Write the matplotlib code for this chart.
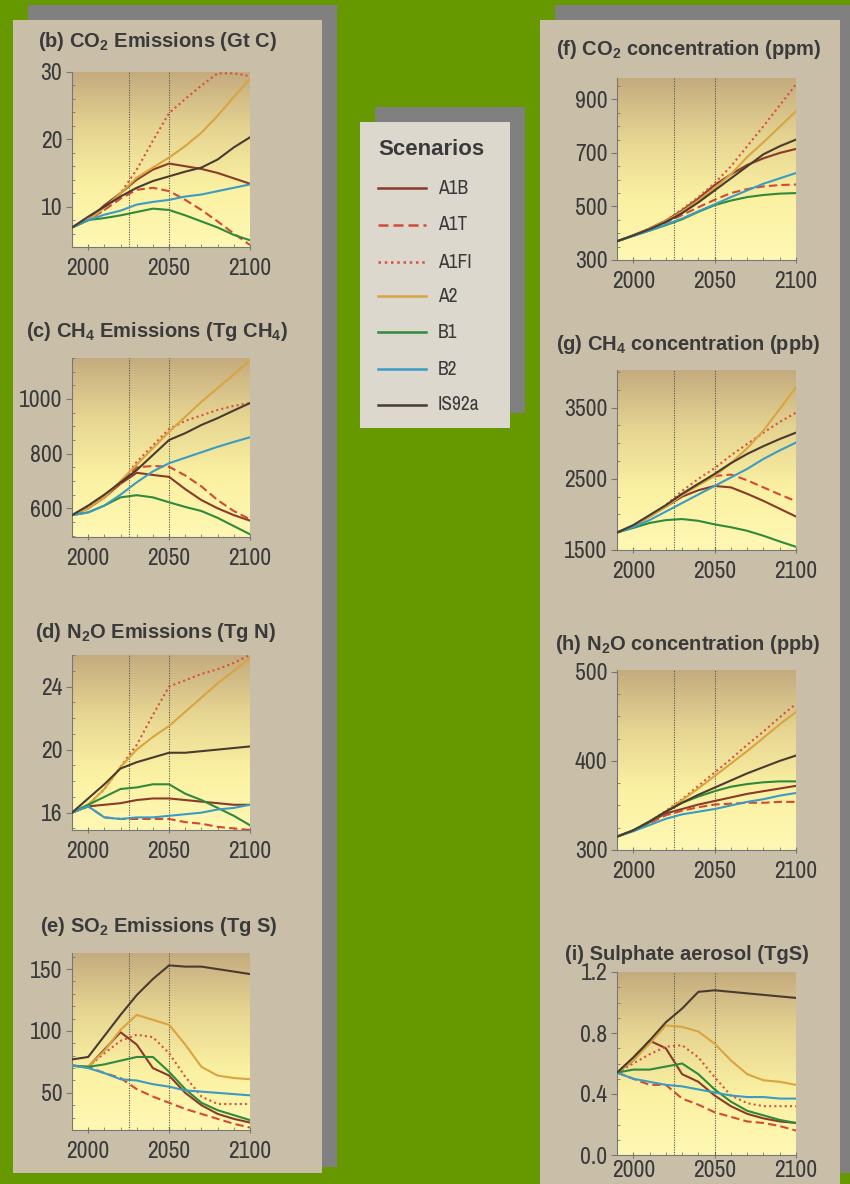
import numpy as np
import matplotlib.pyplot as plt
from matplotlib import font_manager
from matplotlib.colors import LinearSegmentedColormap
from matplotlib.patches import Rectangle
from matplotlib.lines import Line2D
from matplotlib.ticker import MultipleLocator, FormatStrFormatter

names = sorted({f.name for f in font_manager.fontManager.ttflist})
narrow = [n for n in names if 'Narrow' in n or 'Condensed' in n]
NARROW = narrow[0] if narrow else 'Liberation Sans'
plt.rcParams['font.family'] = [NARROW, 'DejaVu Sans']
plt.rcParams['mathtext.fontset'] = 'custom'
plt.rcParams['mathtext.rm'] = 'Liberation Sans'
plt.rcParams['mathtext.bf'] = 'Liberation Sans:bold'

W, H = 850, 1184

years = [1990, 2000, 2010, 2020, 2030, 2040, 2050, 2060, 2070, 2080, 2090, 2100]
scenarios = ['A1B', 'A1T', 'A1FI', 'A2', 'B1', 'B2', 'IS92a']
colors = ['#8a3a28', '#d24a36', '#d8503e', '#d9a441', '#2f8a3c', '#3a9cc4', '#4a3b30']
styles = ['-', (0, (4, 2)), (0, (1, 1.5)), '-', '-', '-', '-']

# (b) CO2 emissions, Gt C
co2_emis = {
    'A1B':   [6.9, 8.0, 10.2, 12.0, 14.0, 15.5, 16.4, 16.0, 15.6, 15.0, 14.2, 13.4],
    'A1T':   [6.9, 8.0, 9.5, 11.2, 12.5, 12.8, 12.3, 11.0, 9.5, 7.8, 6.0, 4.3],
    'A1FI':  [6.9, 8.0, 9.5, 12.0, 15.5, 19.8, 23.9, 26.0, 28.0, 29.8, 29.8, 29.4],
    'A2':    [6.9, 8.0, 9.8, 12.0, 14.3, 15.8, 17.3, 19.0, 21.0, 23.5, 26.3, 29.0],
    'B1':    [6.9, 8.0, 8.3, 8.7, 9.2, 9.7, 9.5, 8.7, 7.8, 6.9, 5.8, 5.0],
    'B2':    [6.9, 8.0, 8.8, 9.4, 10.3, 10.7, 11.0, 11.5, 11.8, 12.3, 12.8, 13.3],
    'IS92a': [6.9, 8.5, 10.0, 11.5, 12.8, 13.8, 14.5, 15.2, 15.8, 17.0, 18.8, 20.3],
}
# (c) CH4 emissions, Tg CH4
ch4_emis = {
    'A1B':   [575, 600, 640, 690, 730, 722, 715, 670, 630, 600, 575, 555],
    'A1T':   [575, 600, 640, 695, 750, 755, 752, 720, 680, 630, 590, 560],
    'A1FI':  [575, 605, 640, 690, 770, 830, 890, 920, 940, 960, 975, 985],
    'A2':    [575, 600, 640, 700, 760, 820, 880, 935, 990, 1040, 1090, 1140],
    'B1':    [575, 585, 610, 640, 648, 640, 622, 605, 590, 565, 535, 505],
    'B2':    [575, 585, 610, 650, 695, 735, 765, 785, 805, 825, 843, 860],
    'IS92a': [575, 610, 650, 695, 740, 795, 850, 875, 905, 930, 958, 985],
}
# (d) N2O emissions, Tg N
n2o_emis = {
    'A1B':   [16.0, 16.4, 16.5, 16.6, 16.8, 16.9, 16.9, 16.8, 16.7, 16.6, 16.5, 16.5],
    'A1T':   [16.0, 16.4, 15.7, 15.6, 15.6, 15.6, 15.6, 15.4, 15.3, 15.1, 15.0, 14.9],
    'A1FI':  [16.0, 16.5, 17.5, 18.9, 20.3, 22.2, 24.0, 24.4, 24.8, 25.1, 25.5, 26.0],
    'A2':    [16.0, 16.5, 17.5, 18.9, 20.0, 20.8, 21.5, 22.4, 23.3, 24.2, 25.0, 25.8],
    'B1':    [16.0, 16.5, 17.0, 17.5, 17.6, 17.8, 17.8, 17.2, 16.8, 16.3, 15.8, 15.2],
    'B2':    [16.0, 16.4, 15.7, 15.6, 15.7, 15.7, 15.8, 15.9, 16.0, 16.2, 16.3, 16.5],
    'IS92a': [16.0, 16.9, 17.8, 18.8, 19.2, 19.5, 19.8, 19.8, 19.9, 20.0, 20.1, 20.2],
}
# (e) SO2 emissions, Tg S
so2_emis = {
    'A1B':   [72, 71, 85, 99, 89, 70, 64, 50, 40, 33, 29, 26],
    'A1T':   [72, 71, 66, 62, 53, 47, 42, 37, 33, 29, 25, 22],
    'A1FI':  [72, 71, 82, 92, 97, 95, 82, 63, 47, 41, 41, 41],
    'A2':    [72, 71, 84, 101, 113, 109, 105, 89, 71, 64, 62, 61],
    'B1':    [72, 71, 73, 76, 79, 79, 67, 53, 42, 36, 32, 28],
    'B2':    [72, 70, 66, 61, 60, 57, 55, 52, 51, 50, 49, 48],
    'IS92a': [77, 79, 96, 113, 129, 142, 153, 152, 152, 150, 148, 146],
}
# (f) CO2 concentration, ppm
co2_conc = {
    'A1B':   [370, 392, 418, 447, 485, 530, 580, 620, 655, 680, 700, 715],
    'A1T':   [370, 392, 415, 440, 468, 497, 525, 550, 565, 575, 580, 582],
    'A1FI':  [370, 392, 418, 447, 490, 535, 587, 650, 725, 800, 878, 956],
    'A2':    [370, 392, 417, 445, 480, 522, 569, 620, 685, 740, 798, 856],
    'B1':    [370, 390, 410, 430, 452, 480, 505, 522, 535, 543, 548, 550],
    'B2':    [370, 390, 410, 432, 455, 482, 508, 535, 560, 585, 605, 625],
    'IS92a': [370, 392, 415, 442, 475, 515, 560, 605, 650, 695, 725, 750],
}
# (g) CH4 concentration, ppb
ch4_conc = {
    'A1B':   [1745, 1840, 1970, 2110, 2250, 2340, 2400, 2380, 2290, 2190, 2080, 1970],
    'A1T':   [1745, 1840, 1970, 2120, 2280, 2430, 2540, 2560, 2480, 2380, 2280, 2185],
    'A1FI':  [1745, 1840, 1970, 2130, 2330, 2500, 2650, 2830, 2990, 3150, 3300, 3430],
    'A2':    [1745, 1840, 1965, 2110, 2270, 2410, 2540, 2720, 2930, 3180, 3480, 3790],
    'B1':    [1745, 1810, 1880, 1920, 1935, 1910, 1860, 1820, 1770, 1700, 1620, 1545],
    'B2':    [1745, 1820, 1920, 2040, 2160, 2280, 2400, 2520, 2640, 2780, 2900, 3010],
    'IS92a': [1745, 1850, 1990, 2130, 2290, 2430, 2570, 2720, 2850, 2960, 3060, 3150],
}
# (h) N2O concentration, ppb
n2o_conc = {
    'A1B':   [315, 322, 331, 341, 346, 351, 355, 359, 363, 366, 369, 372],
    'A1T':   [315, 322, 330, 339, 344, 348, 351, 352, 353, 353, 354, 354],
    'A1FI':  [315, 322, 332, 344, 357, 372, 387, 402, 418, 433, 449, 464],
    'A2':    [315, 322, 332, 343, 356, 369, 383, 397, 411, 426, 441, 455],
    'B1':    [315, 322, 332, 343, 353, 360, 366, 371, 374, 376, 377, 377],
    'B2':    [315, 321, 328, 335, 340, 343, 346, 350, 354, 357, 361, 364],
    'IS92a': [315, 322, 332, 343, 353, 362, 370, 378, 386, 393, 400, 406],
}
# (i) Sulphate aerosol, TgS
sulphate = {
    'A1B':   [0.54, 0.62, 0.75, 0.70, 0.53, 0.48, 0.39, 0.32, 0.27, 0.24, 0.22, 0.21],
    'A1T':   [0.54, 0.50, 0.46, 0.46, 0.37, 0.33, 0.28, 0.25, 0.22, 0.21, 0.19, 0.16],
    'A1FI':  [0.54, 0.60, 0.66, 0.71, 0.72, 0.64, 0.51, 0.39, 0.34, 0.32, 0.32, 0.32],
    'A2':    [0.54, 0.62, 0.73, 0.85, 0.84, 0.81, 0.73, 0.62, 0.53, 0.49, 0.48, 0.46],
    'B1':    [0.54, 0.56, 0.56, 0.58, 0.60, 0.53, 0.43, 0.35, 0.29, 0.26, 0.23, 0.21],
    'B2':    [0.54, 0.50, 0.48, 0.46, 0.45, 0.43, 0.41, 0.39, 0.38, 0.38, 0.37, 0.37],
    'IS92a': [0.54, 0.64, 0.75, 0.87, 0.96, 1.07, 1.08, 1.07, 1.06, 1.05, 1.04, 1.03],
}

panels = [
    # data, title, (left, top, right, bottom) px, ylim, yticks, minor, fmt, title (x, baseline), xpad
    (co2_emis, r'(b) CO$_\mathbf{2}$ Emissions (Gt C)', (72, 72, 250, 247), (4, 30), [10, 20, 30], 2, '%d', (38, 47), 6),
    (ch4_emis, r'(c) CH$_\mathbf{4}$ Emissions (Tg CH$_\mathbf{4}$)', (72, 358, 250, 537), (495, 1150), [600, 800, 1000], 50, '%d', (26, 337), 6),
    (n2o_emis, r'(d) N$_\mathbf{2}$O Emissions (Tg N)', (72, 655, 250, 830), (14.9, 26), [16, 20, 24], 1, '%d', (35, 638), 6),
    (so2_emis, r'(e) SO$_\mathbf{2}$ Emissions (Tg S)', (72, 953, 250, 1130), (20, 163), [50, 100, 150], 10, '%d', (40, 932), 6),
    (co2_conc, r'(f) CO$_\mathbf{2}$ concentration (ppm)', (617, 78, 796, 260), (300, 980), [300, 500, 700, 900], 50, '%d', (556, 55), 6),
    (ch4_conc, r'(g) CH$_\mathbf{4}$ concentration (ppb)', (617, 370, 796, 550), (1500, 4030), [1500, 2500, 3500], 250, '%d', (556, 350), 6),
    (n2o_conc, r'(h) N$_\mathbf{2}$O concentration (ppb)', (617, 670, 796, 850), (300, 502), [300, 400, 500], 25, '%d', (555, 650), 6),
    (sulphate, '(i) Sulphate aerosol (TgS)', (617, 972, 796, 1155), (0, 1.2), [0.0, 0.4, 0.8, 1.2], 0.1, '%.1f', (565, 960), 1.5),
]

GREEN = '#669900'
SHADOW = '#808080'
BEIGE = '#c9bfa9'
TEXT = '#3a3a3a'

fig = plt.figure(figsize=(W / 100, H / 100), dpi=100, facecolor=GREEN)


def fx(x):
    return x / W


def fy(y):
    return 1 - y / H


def box(x0, y0, x1, y1, color, z):
    fig.patches.append(Rectangle((fx(x0), fy(y1)), (x1 - x0) / W, (y1 - y0) / H,
                                 transform=fig.transFigure, facecolor=color,
                                 edgecolor='none', zorder=z))


# panel backgrounds with drop shadows
box(28, 5, 337, 1167, SHADOW, -3)
box(13, 20, 322, 1173, BEIGE, -2)
box(555, 5, 850, 1173, SHADOW, -3)
box(540, 20, 840, 1184, BEIGE, -2)
box(375, 107, 525, 413, SHADOW, -3)
box(360, 122, 510, 428, '#ddd8ce', -2)

bg = LinearSegmentedColormap.from_list('bg', ['#c4ab7e', '#e6d592', '#fbf1a2', '#fff8b4'])
grad = np.linspace(0, 1, 256).reshape(-1, 1)

for data, title, (l, t, r, b), ylim, yticks, minor, fmt, (tx, ty), xpad in panels:
    ax = fig.add_axes([fx(l), fy(b), (r - l) / W, (b - t) / H])
    ax.set_zorder(2)
    ax.set_facecolor('none')
    ax.imshow(grad, cmap=bg, extent=[0, 1, 0, 1], transform=ax.transAxes,
              aspect='auto', zorder=0)
    for s, c, ls in zip(scenarios, colors, styles):
        ax.plot(years, data[s], color=c, ls=ls, lw=1.5, zorder=3)
    for v in (2025, 2050):
        ax.axvline(v, color='#555555', lw=0.8, ls=(0, (1, 1.2)), zorder=2)
    ax.set_xlim(1990, 2100)
    ax.set_ylim(*ylim)
    ax.set_xticks([2000, 2050, 2100])
    ax.xaxis.set_minor_locator(MultipleLocator(10))
    ax.set_yticks(yticks)
    ax.yaxis.set_minor_locator(MultipleLocator(minor))
    ax.yaxis.set_major_formatter(FormatStrFormatter(fmt))
    for side in ('top', 'right'):
        ax.spines[side].set_visible(False)
    for side in ('left', 'bottom'):
        ax.spines[side].set_color('#777777')
        ax.spines[side].set_linewidth(0.8)
    ax.tick_params(axis='both', which='major', labelsize=17, colors='#777777',
                   labelcolor=TEXT, length=4, width=0.8)
    ax.tick_params(axis='x', which='major', direction='inout', pad=xpad)
    ax.tick_params(axis='y', which='major', direction='out', pad=3)
    ax.tick_params(axis='both', which='minor', direction='in', length=2.5,
                   width=0.6, colors='#777777')
    fig.text(fx(tx), fy(ty), title, fontsize=14.5, fontweight='bold', color=TEXT,
             family='Liberation Sans', va='baseline', ha='left', zorder=5)

# legend box
fig.text(fx(378), fy(155), 'Scenarios', fontsize=16, fontweight='bold', color=TEXT,
         family='Liberation Sans', va='baseline', ha='left', zorder=5)
leg_y = [188, 225, 262, 296, 332, 369, 405]
for s, c, ls, yy in zip(scenarios, colors, styles, leg_y):
    fig.lines.append(Line2D([fx(378), fx(426)], [fy(yy), fy(yy)], transform=fig.transFigure,
                            color=c, ls=ls, lw=1.8, zorder=5))
    fig.text(fx(438), fy(yy), s, fontsize=14, color=TEXT, va='center', ha='left', zorder=5)

fig.savefig('out.png', dpi=100, facecolor=GREEN)
